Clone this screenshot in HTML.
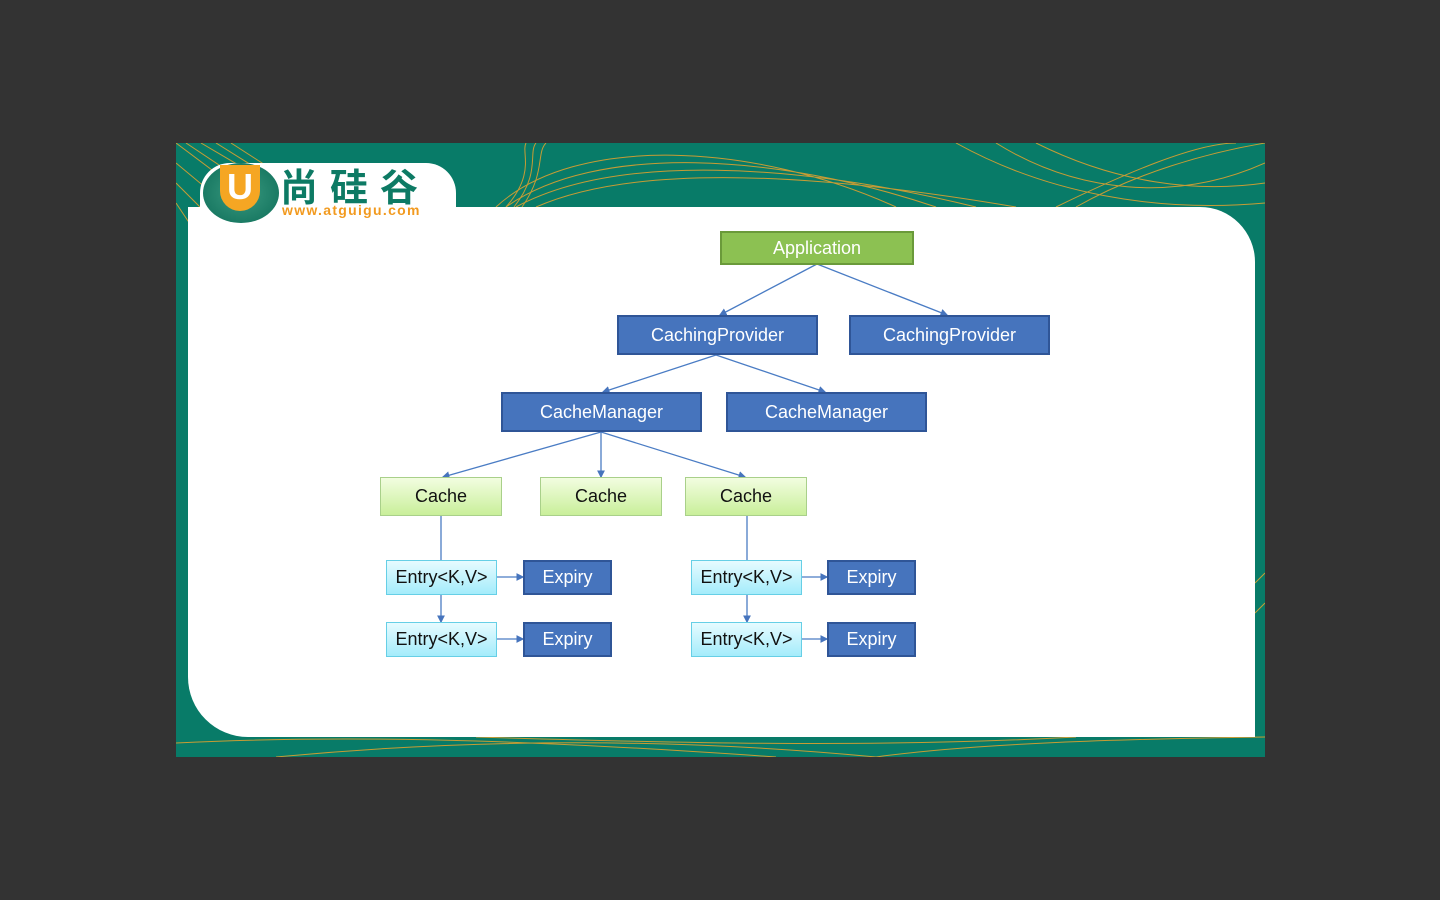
<!DOCTYPE html>
<html><head><meta charset="utf-8"><style>
body{margin:0;width:1440px;height:900px;background:#333333;position:relative;overflow:hidden;font-family:"Liberation Sans","DejaVu Sans",sans-serif}
.slide{position:absolute;left:176px;top:143px;width:1089px;height:614px;background:#087b68;overflow:hidden}
.panel{position:absolute;left:12px;top:64px;width:1067px;height:530px;background:#fff;border-radius:0 55px 0 60px}
.b{position:absolute;box-sizing:border-box;display:flex;align-items:center;justify-content:center;font-size:18px}
.blue{background:#4674bd;border:2px solid #2f5597;color:#fff}
.green{background:#8cc152;border:2px solid #6a9a3a;color:#fff}
.lg{background:linear-gradient(#f2fde0,#c9ef9a);border:1px solid #a9d08a;color:#111}
.cy{background:linear-gradient(#e6fbff,#a4ecfb);border:1px solid #66cfe6;color:#111}
</style></head><body>
<div class="slide">
<svg width="1089" height="614" style="position:absolute;left:0;top:0">
<g stroke="#e9a22c" stroke-width="1" fill="none" opacity=".85">
<path d="M0 0 L80 60M10 0 L100 60M25 0 L110 50M40 0 L120 50M55 0 L125 45M0 20 L60 70M0 40 L40 80M0 60 L20 90"/>
<path d="M330 64 C420 0 600 10 760 64M340 64 C440 10 620 20 800 64M360 64 C460 20 640 30 840 64M320 64 C400 -10 580 0 720 64"/>
<path d="M330 64 C360 30 345 10 350 0M338 64 C365 30 352 10 360 0M346 64 C370 30 360 10 370 0"/>
<path d="M820 0 C900 50 1000 60 1089 20M860 0 C940 40 1020 50 1089 40M780 0 C870 50 980 70 1089 60M900 64 C960 30 1030 10 1089 0M880 64 C950 30 1020 0 1060 0"/>
<path d="M0 600 C200 590 400 600 600 614M300 594 C500 600 700 605 900 594M100 614 C300 595 500 595 700 614M700 614 C800 600 950 596 1089 594"/>
<path d="M1079 440 L1089 430M1079 470 L1089 460"/>
</g></svg>
<div class="panel"></div>
<div style="position:absolute;left:24px;top:20px;width:256px;height:60px;background:#fff;border-radius:30px 30px 0 0"></div>
<div style="position:absolute;left:27px;top:20px;width:76px;height:60px;border-radius:50%;background:radial-gradient(#3a9a80,#0d6d58)"></div>
<div style="position:absolute;left:44px;top:22px;width:40px;height:46px;border-radius:0 0 20px 20px;background:#f5a623;color:#fff;font-weight:bold;font-size:36px;text-align:center;line-height:44px">U</div>
<div style="position:absolute;left:104px;top:20px;font-size:38px;color:#0d7a64;font-family:'Noto Sans CJK SC',sans-serif;font-weight:bold;line-height:44px;letter-spacing:12px">尚硅谷</div>
<div style="position:absolute;left:106px;top:59px;font-size:14px;color:#f29a1f;font-weight:bold;letter-spacing:1.3px">www.atguigu.com</div>
</div>
<svg width="1440" height="900" style="position:absolute;left:0;top:0">
<defs><marker id="a" markerWidth="6" markerHeight="6" refX="5" refY="3" orient="auto"><path d="M0 0L6 3L0 6z" fill="#4674bd"/></marker></defs>
<g stroke="#4a7cc4" stroke-width="1.3" fill="none" marker-end="url(#a)">
<line x1="817" y1="264" x2="720" y2="315"/><line x1="817" y1="264" x2="947" y2="315"/>
<line x1="716" y1="355" x2="603" y2="392"/><line x1="716" y1="355" x2="825" y2="392"/>
<line x1="601" y1="432" x2="443" y2="477"/><line x1="601" y1="432" x2="601" y2="477"/><line x1="601" y1="432" x2="745" y2="477"/>
<line x1="441" y1="595" x2="441" y2="622"/><line x1="747" y1="595" x2="747" y2="622"/>
<line x1="497" y1="577" x2="523" y2="577"/><line x1="497" y1="639" x2="523" y2="639"/>
<line x1="802" y1="577" x2="827" y2="577"/><line x1="802" y1="639" x2="827" y2="639"/>
</g>
<g stroke="#4a7cc4" stroke-width="1.3"><line x1="441" y1="516" x2="441" y2="560"/><line x1="747" y1="516" x2="747" y2="560"/></g>
</svg>
<div class="b green" style="left:720px;top:231px;width:194px;height:34px">Application</div>
<div class="b blue" style="left:617px;top:315px;width:201px;height:40px">CachingProvider</div>
<div class="b blue" style="left:849px;top:315px;width:201px;height:40px">CachingProvider</div>
<div class="b blue" style="left:501px;top:392px;width:201px;height:40px">CacheManager</div>
<div class="b blue" style="left:726px;top:392px;width:201px;height:40px">CacheManager</div>
<div class="b lg" style="left:380px;top:477px;width:122px;height:39px">Cache</div>
<div class="b lg" style="left:540px;top:477px;width:122px;height:39px">Cache</div>
<div class="b lg" style="left:685px;top:477px;width:122px;height:39px">Cache</div>
<div class="b cy" style="left:386px;top:560px;width:111px;height:35px">Entry&lt;K,V&gt;</div>
<div class="b cy" style="left:386px;top:622px;width:111px;height:35px">Entry&lt;K,V&gt;</div>
<div class="b cy" style="left:691px;top:560px;width:111px;height:35px">Entry&lt;K,V&gt;</div>
<div class="b cy" style="left:691px;top:622px;width:111px;height:35px">Entry&lt;K,V&gt;</div>
<div class="b blue" style="left:523px;top:560px;width:89px;height:35px">Expiry</div>
<div class="b blue" style="left:523px;top:622px;width:89px;height:35px">Expiry</div>
<div class="b blue" style="left:827px;top:560px;width:89px;height:35px">Expiry</div>
<div class="b blue" style="left:827px;top:622px;width:89px;height:35px">Expiry</div>
</body></html>
